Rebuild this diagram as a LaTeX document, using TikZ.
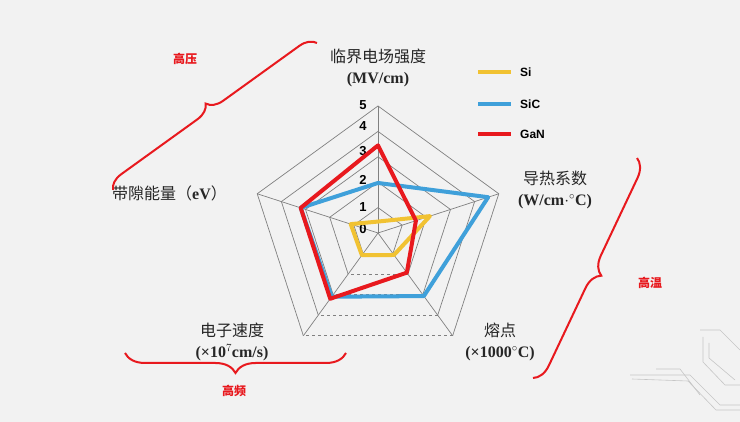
\documentclass[tikz,border=0pt]{standalone}
\usepackage{fontspec}
\setmainfont{Liberation Serif}
\newfontfamily\cjk{Noto Sans CJK SC}
\newfontfamily\lgd{Liberation Sans}
\usetikzlibrary{decorations.pathreplacing,calc}
\definecolor{sired}{HTML}{E8191E}
\definecolor{siblue}{HTML}{3FA0DA}
\definecolor{siyel}{HTML}{F1C232}
\definecolor{bg}{HTML}{F2F2F2}
\begin{document}
\begin{tikzpicture}[x=1pt,y=-1pt,
  axlab/.style={font=\fontsize{16}{18}\selectfont\bfseries, align=center, inner sep=0pt, text=black!85},
  tag/.style={font=\cjk\bfseries\fontsize{12}{13}\selectfont, text=sired, inner sep=0pt},
  bracestyle/.style={draw=sired, line width=2pt, decorate, decoration={brace, amplitude=16pt}},
  grid/.style={draw=gray, line width=0.7pt},
  num/.style={font=\lgd\bfseries\fontsize{13}{14}\selectfont, inner sep=0pt},
  series/.style={line width=4pt, line join=round},
  lg/.style={font=\lgd\bfseries\fontsize{12}{14}\selectfont, anchor=west, inner sep=0pt}]
\fill[bg] (0,0) rectangle (740,422);
\useasboundingbox (0,0) rectangle (740,422);
% circuit decoration
\begin{scope}[draw=gray!45, line width=0.6pt]
\draw (630,375) -- (690,375) -- (720,405) -- (740,405);
\draw (632,379) -- (688,381) -- (716,410) -- (740,410);
\draw (656,369) -- (680,369) -- (700,395);
\draw (700,330) -- (720,330) -- (740,350);
\draw (703,337) -- (703,362) -- (725,385) -- (740,385);
\draw (709,343) -- (709,358) -- (735,380);
\end{scope}
\coordinate (O) at (378,233);
% grid rings
\foreach \r in {1,...,5}{
  \draw[grid] ($(O)+(90:{25.4*\r} and {-25.4*\r})$) -- ($(O)+(18:{25.4*\r} and {-25.4*\r})$) -- ($(O)+(-54:{25.4*\r} and {-25.4*\r})$);
  \draw[grid, dashed] ($(O)+(-54:{25.4*\r} and {-25.4*\r})$) -- ($(O)+(-126:{25.4*\r} and {-25.4*\r})$);
  \draw[grid] ($(O)+(-126:{25.4*\r} and {-25.4*\r})$) -- ($(O)+(162:{25.4*\r} and {-25.4*\r})$) -- ($(O)+(90:{25.4*\r} and {-25.4*\r})$);
}
\foreach \a in {90,18,-54,-126,162}{
  \draw[grid] (O) -- ($(O)+(\a:127 and -127)$);
}
% numbers
\node[num] (n5) at (363,105) {5};
\node[num] (n4) at (363,126) {4};
\node[num] (n3) at (363,151) {3};
\node[num] (n2) at (363,180) {2};
\node[num] (n1) at (363,207) {1};
\node[num] (n0) at (363,229) {0};
% series
\newcommand{\radar}[6]{%
  \draw[series, draw=#1] ($(O)+(90:{25.4*#2} and {-25.4*#2})$) -- ($(O)+(18:{25.4*#3} and {-25.4*#3})$) -- ($(O)+(-54:{25.4*#4} and {-25.4*#4})$) -- ($(O)+(-126:{25.4*#5} and {-25.4*#5})$) -- ($(O)+(162:{25.4*#6} and {-25.4*#6})$) -- cycle;}
\radar{siyel}{0.45}{2.15}{1.07}{1.08}{1.13}
\radar{siblue}{1.97}{4.56}{3.07}{3.1}{3.2}
\radar{sired}{3.45}{1.57}{1.93}{3.2}{3.2}
% axis labels
\node[axlab] (la) at (378,68) {{\cjk\mdseries 临界电场强度}\\[3pt](MV/cm)};
\node[axlab] (lb) at (555,190) {{\cjk\mdseries 导热系数}\\[3pt](W/cm$\cdot^{\circ}$C)};
\node[axlab] (lc) at (500,342) {{\cjk\mdseries 熔点}\\[3pt](×1000$^{\circ}$C)};
\node[axlab] (ld) at (232,342) {{\cjk\mdseries 电子速度}\\[3pt](×10$^{7}$cm/s)};
\node[axlab, anchor=west] (le) at (112,193) {{\cjk\mdseries 带隙能量（}eV{\cjk\mdseries ）}};
% legend
\coordinate (l1a) at (478,72); \coordinate (l1b) at (511,72);
\coordinate (l2a) at (478,104); \coordinate (l2b) at (511,104);
\coordinate (l3a) at (478,134); \coordinate (l3b) at (511,134);
\draw[series, draw=siyel] (l1a) -- (l1b);
\draw[series, draw=siblue] (l2a) -- (l2b);
\draw[series, draw=sired] (l3a) -- (l3b);
\node[lg] (t1) at (520,72) {Si};
\node[lg] (t2) at (520,104) {SiC};
\node[lg] (t3) at (520,134) {GaN};
% braces
\coordinate (b1a) at (113,190); \coordinate (b1b) at (317,43);
\coordinate (b2a) at (637,158); \coordinate (b2b) at (533,378);
\coordinate (b3a) at (346,353); \coordinate (b3b) at (125,353);
\draw[bracestyle] (b1a) -- (b1b);
\draw[bracestyle, decoration={brace, amplitude=18pt}] (b2a) -- (b2b);
\draw[bracestyle, decoration={brace, amplitude=20pt}] (b3a) -- (b3b);
\node[tag] (g1) at (185,59) {高压};
\node[tag] (g2) at (650,283) {高温};
\node[tag] (g3) at (234,391) {高频};
\end{tikzpicture}
\end{document}
